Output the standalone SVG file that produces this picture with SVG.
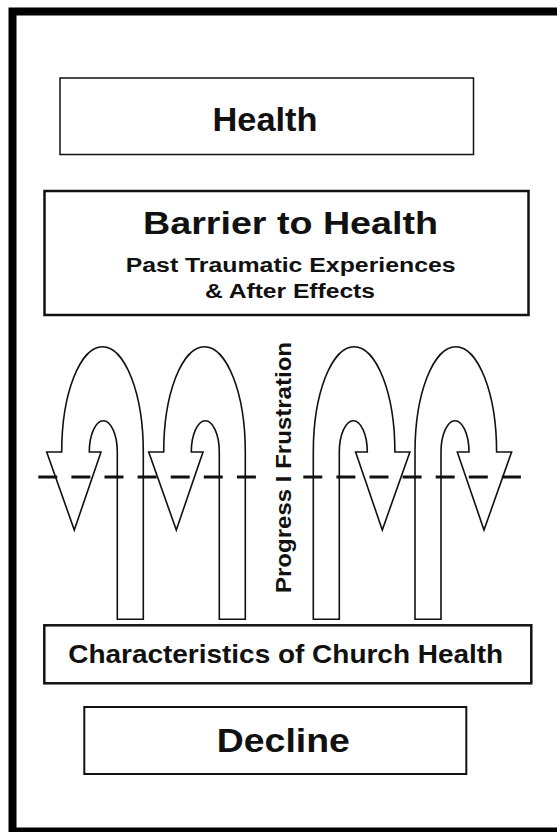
<svg xmlns="http://www.w3.org/2000/svg" xmlns:xlink="http://www.w3.org/1999/xlink" width="557" height="832" viewBox="0 0 557 832">
  <style>
    .box { fill: #fff; stroke: #111; }
    .t { font-family: "Liberation Sans", Arial, Helvetica, sans-serif; font-weight: bold; fill: #111; text-anchor: middle; }
    .arrow { fill: #fff; stroke: #111; stroke-width: 1.6; stroke-linejoin: miter; }
    .dash { stroke: #111; stroke-width: 3; stroke-dasharray: 19 14.1; fill: none; }
  </style>
  <defs>
    <path id="uarrow" class="arrow" d="M143.3,619.3 L143.3,452 A40.8,105.3 0 0 0 61.7,452 L46.7,452 L74.3,530 L101,452 L89.3,452 A14,31.3 0 0 1 117.3,452 L117.3,619.3 Z"/>
  </defs>
  <rect x="0" y="0" width="557" height="832" fill="#fff"/>
  <rect id="frame" x="12.5" y="11.5" width="600" height="820" fill="none" stroke="#000" stroke-width="8"/>

  <g id="health">
    <rect class="box" x="60" y="78" width="413.5" height="76.5" stroke-width="1.5"/>
    <text class="t" x="265" y="130.5" font-size="32.6" textLength="105" lengthAdjust="spacingAndGlyphs">Health</text>
  </g>

  <g id="barrier">
    <rect class="box" x="44.5" y="191" width="484" height="124" stroke-width="2.5"/>
    <text class="t" x="290.5" y="233.5" font-size="31" textLength="295" lengthAdjust="spacingAndGlyphs">Barrier to Health</text>
    <text class="t" x="290.7" y="271.7" font-size="20" textLength="330" lengthAdjust="spacingAndGlyphs">Past Traumatic Experiences</text>
    <text class="t" x="290" y="298.3" font-size="20" textLength="170" lengthAdjust="spacingAndGlyphs">&amp; After Effects</text>
  </g>

  <g id="arrows">
    <g id="arrow1"><use xlink:href="#uarrow"/></g>
    <g id="arrow2"><use xlink:href="#uarrow" transform="translate(102,0)"/></g>
    <g id="arrow3"><use xlink:href="#uarrow" transform="translate(456.6,0) scale(-1,1)"/></g>
    <g id="arrow4"><use xlink:href="#uarrow" transform="translate(558.3,0) scale(-1,1)"/></g>
  </g>

  <g id="divider">
    <line class="dash" x1="38.3" y1="477" x2="257" y2="477"/>
    <line class="dash" x1="303.3" y1="477" x2="521" y2="477"/>
    <text class="t" transform="translate(290.5,593) rotate(-90)" x="0" y="0" font-size="22" text-anchor="start" style="text-anchor:start" textLength="251" lengthAdjust="spacingAndGlyphs">Progress I Frustration</text>
  </g>

  <g id="characteristics">
    <rect class="box" x="44.3" y="625.3" width="487" height="58" stroke-width="2.5"/>
    <text class="t" x="285.7" y="663.3" font-size="25.5" textLength="435" lengthAdjust="spacingAndGlyphs">Characteristics of Church Health</text>
  </g>

  <g id="decline">
    <rect class="box" x="84.3" y="707" width="382" height="67" stroke-width="2"/>
    <text class="t" x="283.3" y="751.7" font-size="32.6" textLength="133" lengthAdjust="spacingAndGlyphs">Decline</text>
  </g>
</svg>
